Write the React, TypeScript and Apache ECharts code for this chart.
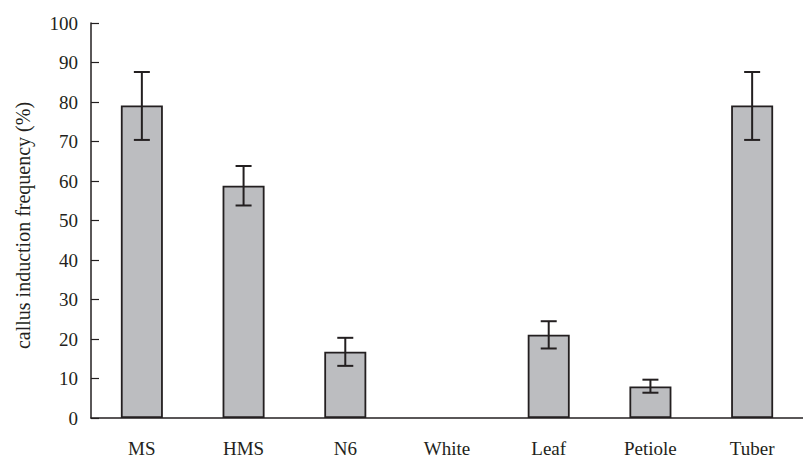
import React, { useEffect, useRef } from "react";
import * as echarts from "echarts";

const categories = ["MS", "HMS", "N6", "White", "Leaf", "Petiole", "Tuber"];
const meanValues = [79.1, 58.8, 16.8, 0, 21.1, 8.0, 79.1];
const errLow = [70.4, 53.8, 13.2, 0, 17.6, 6.4, 70.4];
const errHigh = [87.6, 63.8, 20.3, 0, 24.5, 9.7, 87.6];
const yTicks = { min: 0, max: 100, interval: 10 };
const yAxisTitle = "callus induction frequency (%)";

export default function App() {
  const ref = useRef<HTMLDivElement>(null);
  useEffect(() => {
    if (!ref.current) return;
    const chart = echarts.init(ref.current, null, { renderer: "svg" });
    const font = "'Liberation Serif', 'Times New Roman', serif";
    const errData = categories
      .map((_, i) => [i, errLow[i], errHigh[i]])
      .filter((d) => d[2] > d[1]);
    const barData = meanValues.map((v) =>
      v === 0 ? { value: v, itemStyle: { borderWidth: 0 } } : v
    );
    chart.setOption({
      animation: false,
      backgroundColor: "#ffffff",
      grid: { left: 91, right: -8, top: 23, bottom: 37 },
      xAxis: {
        type: "category",
        data: categories,
        axisLine: { lineStyle: { color: "#231f20", width: 1.5 } },
        axisTick: { inside: true, length: 7, lineStyle: { color: "#231f20", width: 1.2 } },
        axisLabel: { color: "#231f20", fontFamily: font, fontSize: 19, margin: 21 },
      },
      yAxis: {
        type: "value",
        min: yTicks.min,
        max: yTicks.max,
        interval: yTicks.interval,
        name: yAxisTitle,
        nameLocation: "middle",
        nameRotate: 90,
        nameGap: 58,
        nameTextStyle: { color: "#231f20", fontFamily: font, fontSize: 20, padding: [0, 10, 0, 0] },
        axisLine: { show: true, lineStyle: { color: "#231f20", width: 1.5 } },
        axisTick: { show: true, inside: true, length: 8, lineStyle: { color: "#231f20", width: 1.2 } },
        axisLabel: { color: "#231f20", fontFamily: font, fontSize: 19, margin: 13 },
        splitLine: { show: false },
      },
      series: [
        {
          type: "bar",
          data: barData,
          barWidth: 42,
          itemStyle: { color: "#bcbdc0", borderColor: "#231f20", borderWidth: 1.8 },
        },
        {
          type: "custom",
          data: errData,
          z: 10,
          renderItem: (params: any, api: any) => {
            const x = api.value(0);
            const lo = api.coord([x, api.value(1)]);
            const hi = api.coord([x, api.value(2)]);
            const hw = 8;
            const style = { stroke: "#231f20", lineWidth: 2 };
            return {
              type: "group",
              children: [
                { type: "line", shape: { x1: lo[0], y1: lo[1], x2: hi[0], y2: hi[1] }, style },
                { type: "line", shape: { x1: hi[0] - hw, y1: hi[1], x2: hi[0] + hw, y2: hi[1] }, style },
                { type: "line", shape: { x1: lo[0] - hw, y1: lo[1], x2: lo[0] + hw, y2: lo[1] }, style },
              ],
            };
          },
        },
      ],
    });
    return () => chart.dispose();
  }, []);
  return (
    <div
      ref={ref}
      style={{ position: "fixed", left: 0, top: 0, width: 803, height: 458 }}
    />
  );
}
